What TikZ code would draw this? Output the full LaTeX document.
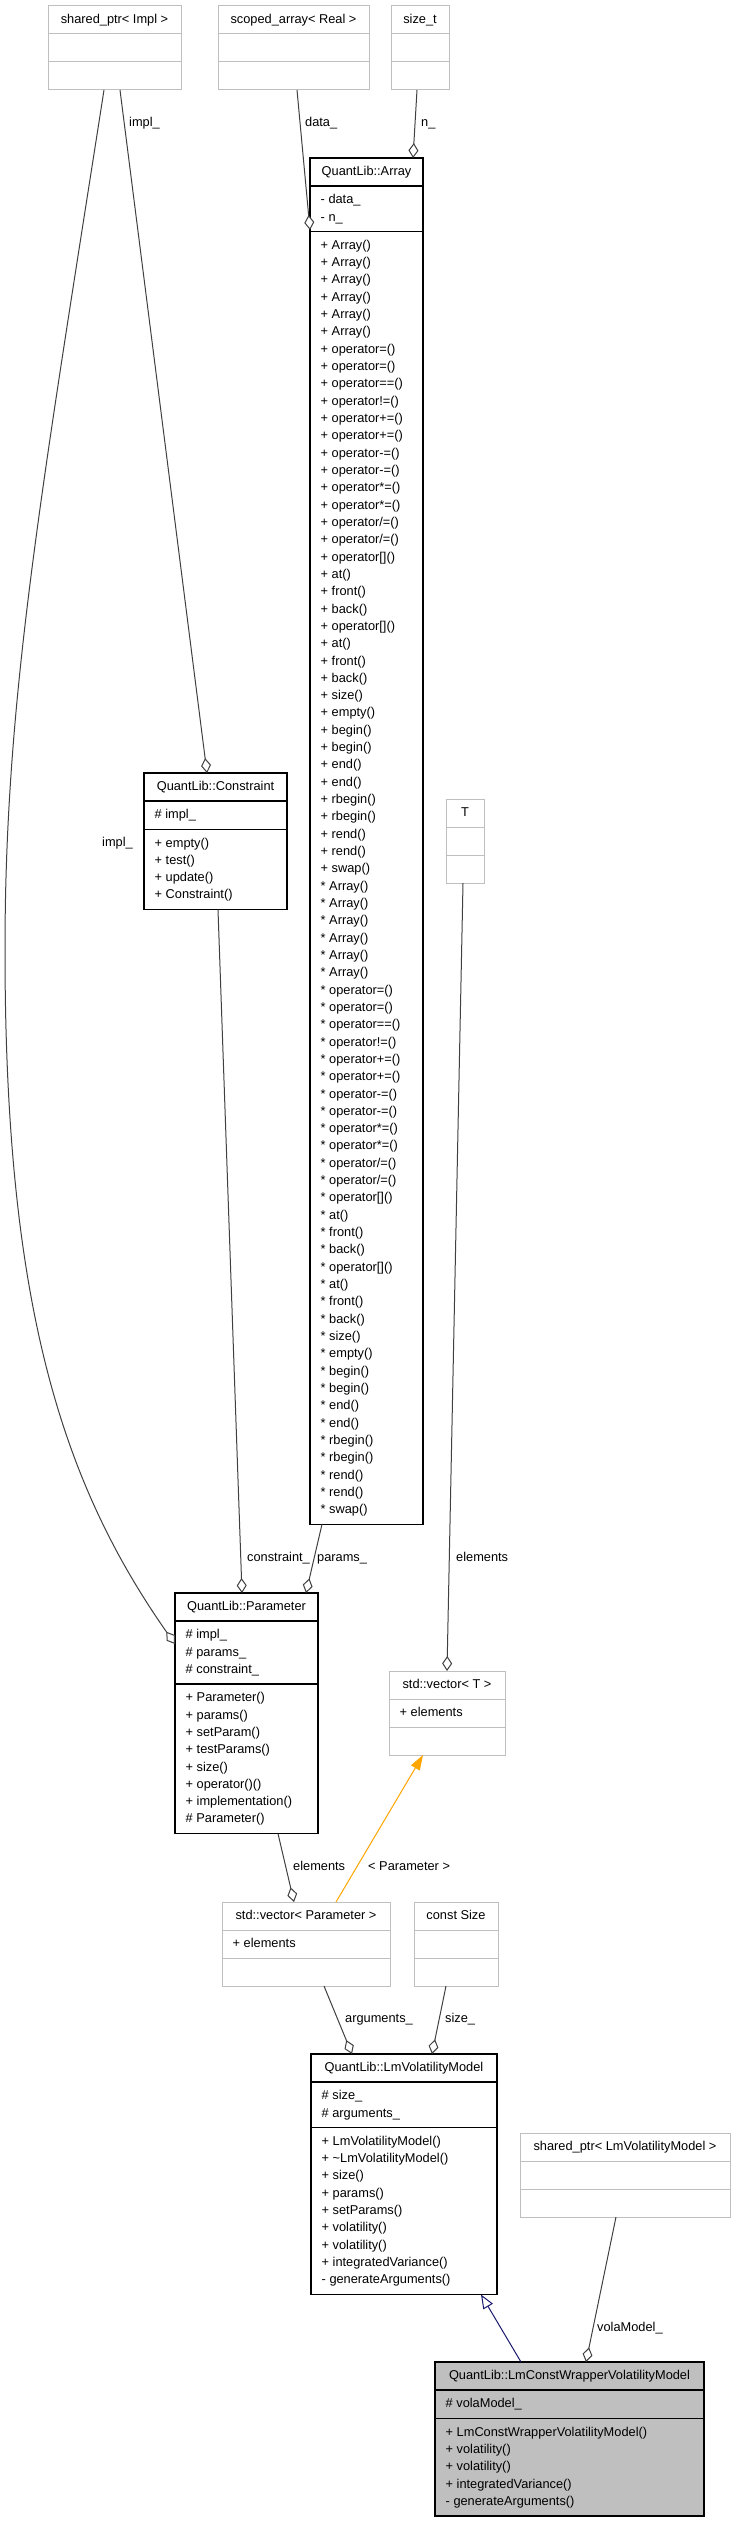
\documentclass[tikz,border=0pt]{standalone}
\usepackage{fontspec}
\setmainfont{Liberation Sans}
\usetikzlibrary{arrows.meta}
\definecolor{edgegray}{HTML}{404040}
\definecolor{boxgray}{HTML}{BFBFBF}
\definecolor{inhblue}{HTML}{191970}
\definecolor{tmplorange}{HTML}{FFA500}

\begin{document}
\begin{tikzpicture}[x=1pt,y=-1pt,
  txt/.style={inner sep=0pt,font=\fontsize{12.8}{17.32}\selectfont},
  hdr/.style={txt,text height=9.3pt,text depth=2.7pt},
  lbl/.style={hdr,anchor=west},
  mem/.style={txt,anchor=north west,align=left},
  cls/.style={draw=black,line width=1.2pt,fill=white,inner sep=0pt,outer sep=0pt,anchor=north west,minimum width=#1},
  ext/.style={cls=#1,draw=boxgray,line width=1pt,minimum height=84pt},
  div/.style={line width=1.2pt},
  gdiv/.style={draw=boxgray,line width=1pt},
  agg/.style={draw=edgegray,line width=1pt,-{Diamond[length=15pt,width=10pt,fill=white]}},
  inh/.style={draw=inhblue,line width=1pt,-{Triangle[length=14pt,width=11pt,fill=white]}},
  tmpl/.style={draw=tmplorange,line width=1pt,-{Triangle[length=15pt,width=10pt]}}]

\useasboundingbox (0,0) rectangle (736,2523);

\node [ext=133pt] (simpl) at (48,6) {};
\draw [gdiv] ([yshift=-28pt]simpl.north west) -- ([yshift=-28pt]simpl.north east);
\draw [gdiv] ([yshift=-56pt]simpl.north west) -- ([yshift=-56pt]simpl.north east);
\node [hdr] at ([yshift=-14pt]simpl.north) {shared\_ptr< Impl >};

\node [ext=151pt] (sarr) at (218,6) {};
\draw [gdiv] ([yshift=-28pt]sarr.north west) -- ([yshift=-28pt]sarr.north east);
\draw [gdiv] ([yshift=-56pt]sarr.north west) -- ([yshift=-56pt]sarr.north east);
\node [hdr] at ([yshift=-14pt]sarr.north) {scoped\_array< Real >};

\node [ext=58pt] (sizet) at (391,6) {};
\draw [gdiv] ([yshift=-28pt]sizet.north west) -- ([yshift=-28pt]sizet.north east);
\draw [gdiv] ([yshift=-56pt]sizet.north west) -- ([yshift=-56pt]sizet.north east);
\node [hdr] at ([yshift=-14pt]sizet.north) {size\_t};

\node [cls=113pt,minimum height=1366.3pt] (arr) at (310,158) {};
\draw [div] ([yshift=-28pt]arr.north west) -- ([yshift=-28pt]arr.north east);
\draw [div] ([yshift=-73.6pt]arr.north west) -- ([yshift=-73.6pt]arr.north east);
\node [hdr] at ([yshift=-14pt]arr.north) {QuantLib::Array};
\node [mem] at ([xshift=10.5pt,yshift=-33.4pt]arr.north west) {\strut- data\_\\- n\_};
\node [mem] at ([xshift=10.5pt,yshift=-79pt]arr.north west) {\strut+ Array()\\+ Array()\\+ Array()\\+ Array()\\+ Array()\\+ Array()\\
+ operator=()\\+ operator=()\\+ operator==()\\+ operator!=()\\+ operator+=()\\+ operator+=()\\
+ operator-=()\\+ operator-=()\\+ operator*=()\\+ operator*=()\\+ operator/=()\\+ operator/=()\\
+ operator[]()\\+ at()\\+ front()\\+ back()\\+ operator[]()\\+ at()\\+ front()\\+ back()\\
+ size()\\+ empty()\\+ begin()\\+ begin()\\+ end()\\+ end()\\+ rbegin()\\+ rbegin()\\+ rend()\\+ rend()\\+ swap()\\
{*} Array()\\{*} Array()\\{*} Array()\\{*} Array()\\{*} Array()\\{*} Array()\\
{*} operator=()\\{*} operator=()\\{*} operator==()\\{*} operator!=()\\{*} operator+=()\\{*} operator+=()\\
{*} operator-=()\\{*} operator-=()\\{*} operator*=()\\{*} operator*=()\\{*} operator/=()\\{*} operator/=()\\
{*} operator[]()\\{*} at()\\{*} front()\\{*} back()\\{*} operator[]()\\{*} at()\\{*} front()\\{*} back()\\
{*} size()\\{*} empty()\\{*} begin()\\{*} begin()\\{*} end()\\{*} end()\\{*} rbegin()\\{*} rbegin()\\{*} rend()\\{*} rend()\\{*} swap()};

\node [cls=143pt,minimum height=136.6pt] (cons) at (144,773) {};
\draw [div] ([yshift=-28pt]cons.north west) -- ([yshift=-28pt]cons.north east);
\draw [div] ([yshift=-56.3pt]cons.north west) -- ([yshift=-56.3pt]cons.north east);
\node [hdr] at ([yshift=-14pt]cons.north) {QuantLib::Constraint};
\node [mem] at ([xshift=10.5pt,yshift=-33.4pt]cons.north west) {\strut\# impl\_};
\node [mem] at ([xshift=10.5pt,yshift=-61.7pt]cons.north west) {\strut+ empty()\\+ test()\\+ update()\\+ Constraint()};

\node [ext=38pt] (tpar) at (446,799) {};
\draw [gdiv] ([yshift=-28pt]tpar.north west) -- ([yshift=-28pt]tpar.north east);
\draw [gdiv] ([yshift=-56pt]tpar.north west) -- ([yshift=-56pt]tpar.north east);
\node [hdr] at ([yshift=-14pt]tpar.north) {T};

\node [cls=143pt,minimum height=240.6pt] (par) at (175,1593) {};
\draw [div] ([yshift=-28pt]par.north west) -- ([yshift=-28pt]par.north east);
\draw [div] ([yshift=-91pt]par.north west) -- ([yshift=-91pt]par.north east);
\node [hdr] at ([yshift=-14pt]par.north) {QuantLib::Parameter};
\node [mem] at ([xshift=10.5pt,yshift=-33.4pt]par.north west) {\strut\# impl\_\\\# params\_\\\# constraint\_};
\node [mem] at ([xshift=10.5pt,yshift=-96.4pt]par.north west) {\strut+ Parameter()\\+ params()\\+ setParam()\\+ testParams()\\+ size()\\+ operator()()\\+ implementation()\\\# Parameter()};

\node [ext=116pt] (vect) at (389,1671) {};
\draw [gdiv] ([yshift=-28pt]vect.north west) -- ([yshift=-28pt]vect.north east);
\draw [gdiv] ([yshift=-56pt]vect.north west) -- ([yshift=-56pt]vect.north east);
\node [hdr] at ([yshift=-14pt]vect.north) {std::vector< T >};
\node [mem] at ([xshift=10.5pt,yshift=-33.4pt]vect.north west) {\strut+ elements};

\node [ext=168pt] (vecp) at (222,1902) {};
\draw [gdiv] ([yshift=-28pt]vecp.north west) -- ([yshift=-28pt]vecp.north east);
\draw [gdiv] ([yshift=-56pt]vecp.north west) -- ([yshift=-56pt]vecp.north east);
\node [hdr] at ([yshift=-14pt]vecp.north) {std::vector< Parameter >};
\node [mem] at ([xshift=10.5pt,yshift=-33.4pt]vecp.north west) {\strut+ elements};

\node [ext=84pt] (csize) at (414,1902) {};
\draw [gdiv] ([yshift=-28pt]csize.north west) -- ([yshift=-28pt]csize.north east);
\draw [gdiv] ([yshift=-56pt]csize.north west) -- ([yshift=-56pt]csize.north east);
\node [hdr] at ([yshift=-14pt]csize.north) {const Size};

\node [cls=186pt,minimum height=240.5pt] (lmv) at (311,2054) {};
\draw [div] ([yshift=-28pt]lmv.north west) -- ([yshift=-28pt]lmv.north east);
\draw [div] ([yshift=-73.6pt]lmv.north west) -- ([yshift=-73.6pt]lmv.north east);
\node [hdr] at ([yshift=-14pt]lmv.north) {QuantLib::LmVolatilityModel};
\node [mem] at ([xshift=10.5pt,yshift=-33.4pt]lmv.north west) {\strut\# size\_\\\# arguments\_};
\node [mem] at ([xshift=10.5pt,yshift=-79pt]lmv.north west) {\strut+ LmVolatilityModel()\\+ \textasciitilde LmVolatilityModel()\\+ size()\\+ params()\\+ setParams()\\+ volatility()\\+ volatility()\\+ integratedVariance()\\- generateArguments()};

\node [ext=210pt] (splmv) at (520,2133) {};
\draw [gdiv] ([yshift=-28pt]splmv.north west) -- ([yshift=-28pt]splmv.north east);
\draw [gdiv] ([yshift=-56pt]splmv.north west) -- ([yshift=-56pt]splmv.north east);
\node [hdr] at ([yshift=-14pt]splmv.north) {shared\_ptr< LmVolatilityModel >};

\node [cls=269pt,minimum height=153.9pt,fill=boxgray] (lmcw) at (435,2362) {};
\draw [div] ([yshift=-28pt]lmcw.north west) -- ([yshift=-28pt]lmcw.north east);
\draw [div] ([yshift=-56.3pt]lmcw.north west) -- ([yshift=-56.3pt]lmcw.north east);
\node [hdr] at ([yshift=-14pt]lmcw.north) {QuantLib::LmConstWrapperVolatilityModel};
\node [mem] at ([xshift=10.5pt,yshift=-33.4pt]lmcw.north west) {\strut\# volaModel\_};
\node [mem] at ([xshift=10.5pt,yshift=-61.7pt]lmcw.north west) {\strut+ LmConstWrapperVolatilityModel()\\+ volatility()\\+ volatility()\\+ integratedVariance()\\- generateArguments()};

\coordinate (implbend) at (5,950);

\draw [agg] ([xshift=3.5pt]sarr.south) -- ([yshift=-72pt]arr.north west);
\draw [agg] ([xshift=-3pt]sizet.south) -- ([xshift=46.5pt]arr.north);
\draw [agg] ([xshift=5.5pt]simpl.south) -- ([xshift=-8.5pt]cons.north);
\draw [agg] ([xshift=-10.5pt]simpl.south) .. controls (40,500) and (5,700) .. (implbend) .. controls (5,1300) and (60,1480) .. ([yshift=-51pt]par.north west);
\draw [agg] ([xshift=2.5pt]cons.south) -- ([xshift=-4.5pt]par.north);
\draw [agg] ([xshift=-44.5pt]arr.south) -- ([xshift=59.5pt]par.north);
\draw [agg] ([xshift=-2pt]tpar.south) -- (vect.north);
\draw [tmpl] ([xshift=30pt]vecp.north) -- ([xshift=-24pt]vect.south);
\draw [agg] ([xshift=31.5pt]par.south) -- ([xshift=-12pt]vecp.north);
\draw [agg] ([xshift=18pt]vecp.south) -- ([xshift=-52pt]lmv.north);
\draw [agg] ([xshift=-10pt]csize.south) -- ([xshift=28pt]lmv.north);
\draw [inh] ([xshift=-48.5pt]lmcw.north) -- ([xshift=77pt]lmv.south);
\draw [agg] ([xshift=-9pt]splmv.south) -- ([xshift=16.5pt]lmcw.north);

\node [lbl] at (305,123) {data\_};
\node [lbl] at (421,123) {n\_};
\node [lbl] at (129,123) {impl\_};
\node [lbl,anchor=east] at (133,843) {impl\_};
\node [lbl] at (247,1558) {constraint\_};
\node [lbl] at (317,1558) {params\_};
\node [lbl] at (456,1558) {elements};
\node [lbl] at (368,1867) {< Parameter >};
\node [lbl] at (293,1867) {elements};
\node [lbl] at (345,2019) {arguments\_};
\node [lbl] at (445,2019) {size\_};
\node [lbl] at (597,2328) {volaModel\_};

\end{tikzpicture}
\end{document}
